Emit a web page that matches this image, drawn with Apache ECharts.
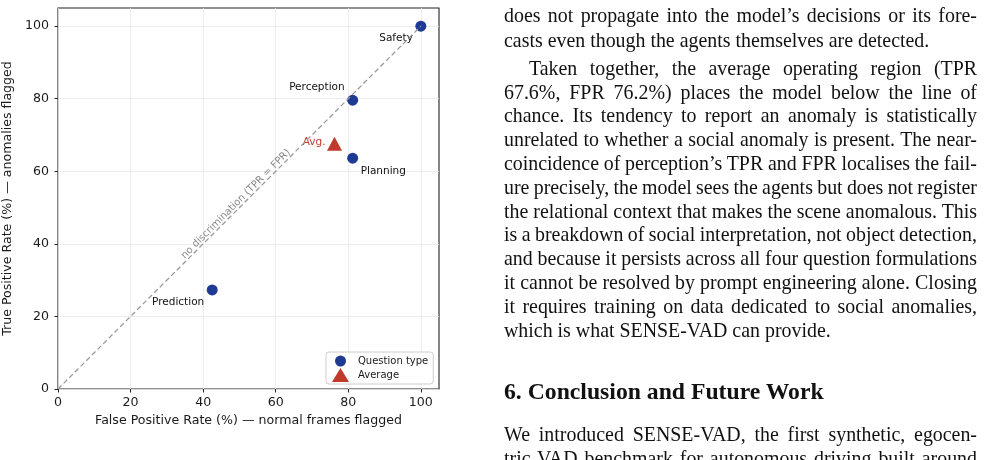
<!DOCTYPE html>
<html><head><meta charset="utf-8">
<script src="https://cdn.jsdelivr.net/npm/echarts@6/dist/echarts.min.js"></script>
<style>
html,body{margin:0;padding:0;width:984px;height:460px;overflow:hidden;background:#fff;}
#chart{position:absolute;left:0;top:0;width:480px;height:460px;}
#text{position:absolute;left:0;top:0;width:984px;height:460px;font-family:'Liberation Serif','Times New Roman',serif;color:#111;}
.ln{position:absolute;left:504px;white-space:nowrap;font-size:19.9px;line-height:24px;}
.hd{position:absolute;left:504px;white-space:nowrap;font-size:23.7px;font-weight:bold;line-height:28px;}
</style></head><body>
<div id="chart"></div><div id="text"></div>
<script>
// ---------- chart data ----------
const questionTypes = ['Safety', 'Perception', 'Planning', 'Prediction'];
const fprValues = [100, 81.2, 81.2, 42.5];
const tprValues = [100, 79.6, 63.6, 27.3];
const averageName = 'Avg.';
const averageFpr = [76.2];
const averageTpr = [67.6];
const diagonalEnds = [0, 100];
const diagonalLabel = 'no discrimination (TPR = FPR)';
const xTicks = [0, 20, 40, 60, 80, 100];
const yTicks = [0, 20, 40, 60, 80, 100];
const legendNames = ['Question type', 'Average'];
const xTitle = 'False Positive Rate (%) \u2014 normal frames flagged';
const yTitle = 'True Positive Rate (%) \u2014 anomalies flagged';

// ---------- body text ----------
const para1 = [
  'does not propagate into the model\u2019s decisions or its fore-',
  'casts even though the agents themselves are detected.'
];
const para2 = [
  'Taken together, the average operating region (TPR',
  '67.6%, FPR 76.2%) places the model below the line of',
  'chance.  Its tendency to report an anomaly is statistically',
  'unrelated to whether a social anomaly is present. The near-',
  'coincidence of perception\u2019s TPR and FPR localises the fail-',
  'ure precisely, the model sees the agents but does not register',
  'the relational context that makes the scene anomalous. This',
  'is a breakdown of social interpretation, not object detection,',
  'and because it persists across all four question formulations',
  'it cannot be resolved by prompt engineering alone. Closing',
  'it requires training on data dedicated to social anomalies,',
  'which is what SENSE-VAD can provide.'
];
const heading = '6. Conclusion and Future Work';
const para3 = [
  'We introduced SENSE-VAD, the first synthetic, egocen-',
  'tric VAD benchmark for autonomous driving built around'
];

// ---------- styles ----------
const FONT = 'DejaVu Sans';
const BLUE = '#1f3a93';
const RED = '#c0392b';
const labelPlacement = {
  Safety: {align: 'right', offset: [-8, 12]},
  Perception: {align: 'right', offset: [-8, -13]},
  Planning: {align: 'left', offset: [8, 13]},
  Prediction: {align: 'right', offset: [-8, 12]}
};

const chart = echarts.init(document.getElementById('chart'), null, {renderer: 'canvas'});
const axisText = {fontSize: 12.6, color: '#1a1a1a', fontFamily: FONT};

chart.setOption({
  animation: false,
  textStyle: {fontFamily: FONT},
  grid: {left: 58, top: 8, width: 381, height: 381, show: true, borderColor: '#222', borderWidth: 1.1, outerBoundsMode: 'none'},
  xAxis: {
    type: 'value', min: 0, max: 105, interval: 20,
    axisLine: {show: false},
    axisTick: {show: true, length: 3.5, customValues: xTicks, lineStyle: {color: '#222'}},
    axisLabel: Object.assign({customValues: xTicks, margin: 7}, axisText),
    splitLine: {show: true, lineStyle: {color: '#e9e9e9', width: 0.8}},
    name: xTitle, nameLocation: 'middle', nameGap: 25.5, nameTextStyle: axisText
  },
  yAxis: {
    type: 'value', min: 0, max: 105, interval: 20,
    axisLine: {show: false},
    axisTick: {show: true, length: 3.5, customValues: yTicks, lineStyle: {color: '#222'}},
    axisLabel: Object.assign({customValues: yTicks, margin: 9}, axisText),
    splitLine: {show: true, lineStyle: {color: '#e9e9e9', width: 0.8}},
    name: yTitle, nameLocation: 'middle', nameGap: 37.5, nameTextStyle: axisText
  },
  legend: {
    orient: 'vertical', left: 326, top: 352,
    padding: [2, 5, 2, 6], itemGap: 0, itemWidth: 17, itemHeight: 14,
    borderColor: '#cccccc', borderWidth: 1, borderRadius: 3,
    backgroundColor: 'rgba(255,255,255,0.85)',
    textStyle: {fontSize: 10, color: '#1a1a1a', fontFamily: FONT, padding: [0, 0, 0, 4]},
    selectedMode: false,
    data: [
      {name: legendNames[0], icon: 'path://M0,0 M17,14 M14,7 A5.5,5.5,0,1,1,3,7 A5.5,5.5,0,1,1,14,7 Z'},
      {name: legendNames[1], icon: 'triangle'}
    ]
  },
  series: [
    {
      name: 'diagonal', type: 'line', data: [], silent: true, z: 1,
      markLine: {
        silent: true, symbol: ['none', 'none'], animation: false,
        lineStyle: {color: '#9a9a9a', type: [5, 3], width: 1.3},
        label: {show: true, position: 'middle', formatter: diagonalLabel, color: '#8a8a8a', fontSize: 10, fontFamily: FONT, distance: 0},
        emphasis: {disabled: true},
        data: [[{coord: [diagonalEnds[0], diagonalEnds[0]]}, {coord: [diagonalEnds[1], diagonalEnds[1]]}]]
      }
    },
    {
      name: legendNames[0], type: 'scatter', symbol: 'circle', symbolSize: 11, z: 3,
      itemStyle: {color: BLUE, opacity: 1},
      label: {show: true, position: 'inside', verticalAlign: 'middle', color: '#111', fontSize: 10.5, fontFamily: FONT},
      emphasis: {disabled: true},
      data: questionTypes.map((n, i) => ({
        name: n, value: [fprValues[i], tprValues[i]],
        label: Object.assign({formatter: n}, labelPlacement[n])
      }))
    },
    {
      name: legendNames[1], type: 'scatter', symbol: 'triangle', symbolSize: [15, 14], z: 3,
      itemStyle: {color: RED, opacity: 1},
      label: {show: true, position: 'inside', align: 'right', verticalAlign: 'middle', offset: [-9, -1], formatter: averageName, color: '#c9392b', fontSize: 10.5, fontFamily: FONT},
      emphasis: {disabled: true},
      data: averageFpr.map((v, i) => [v, averageTpr[i]])
    }
  ]
});

// ---------- text layout ----------
const textBox = document.getElementById('text');
const COL_W = 473;
function addLine(str, top, cls, justify, indent) {
  const d = document.createElement('div');
  d.className = cls;
  d.style.top = top + 'px';
  d.style.left = (504 + (indent || 0)) + 'px';
  d.textContent = str;
  textBox.appendChild(d);
  if (justify) {
    const w = d.getBoundingClientRect().width;
    const n = (str.replace(/\s+/g, ' ').match(/ /g) || []).length;
    if (n > 0) d.style.wordSpacing = ((COL_W - (indent || 0) - w) / n) + 'px';
  }
}
const OFF = 12.3;
addLine(para1[0], 15.5 - OFF, 'ln', true, 0);
addLine(para1[1], 39.8 - OFF, 'ln', false, 0);
para2.forEach((s, k) => addLine(s, 68 + 23.8 * k - OFF, 'ln', k < para2.length - 1, k === 0 ? 25 : 0));
addLine(heading, 391 - 14, 'hd', false, 0);
para3.forEach((s, k) => addLine(s, 434 + 23.8 * k - OFF, 'ln', true, 0));
</script>
</body></html>
